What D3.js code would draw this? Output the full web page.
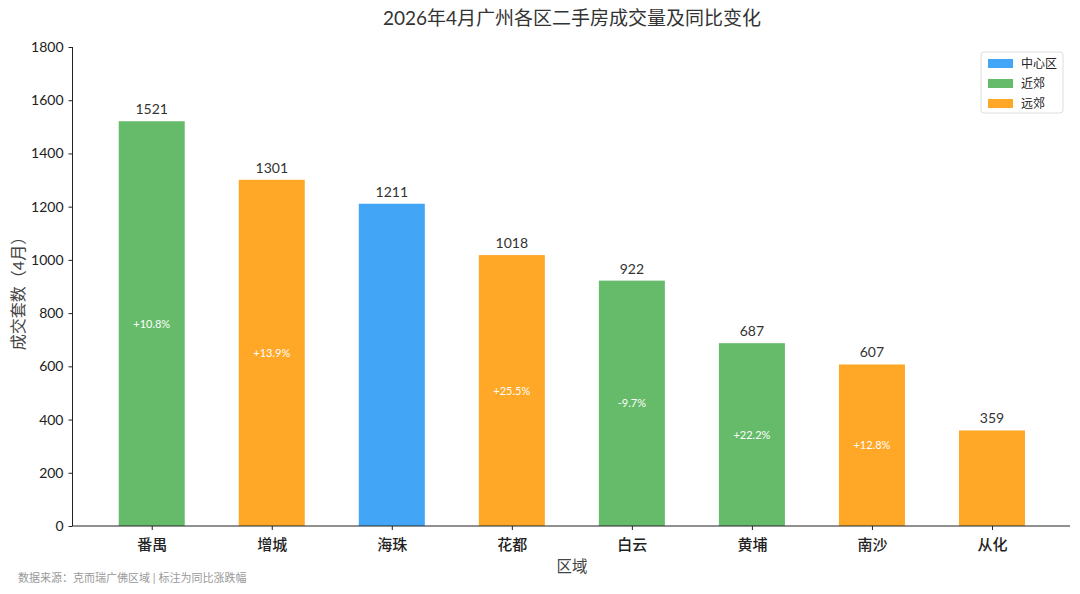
<!DOCTYPE html>
<html><head><meta charset="utf-8">
<script src="https://cdn.jsdelivr.net/npm/d3@7"></script>
<style>body{margin:0;background:#fff}svg{display:block}</style>
</head><body><svg id="c" width="1080" height="594"></svg>
<script>
const districts = ["番禺","增城","海珠","花都","白云","黄埔","南沙","从化"];
const volumes = [1521,1301,1211,1018,922,687,607,359];
const groups = ["近郊","远郊","中心区","远郊","近郊","近郊","远郊","远郊"];
const yoyLabels = ["+10.8%","+13.9%","","+25.5%","-9.7%","+22.2%","+12.8%",""];
const legendGroups = ["中心区","近郊","远郊"];
const groupColors = {"中心区":"#42A5F5","近郊":"#66BB6A","远郊":"#FFA726"};
const yTicks = [0,200,400,600,800,1000,1200,1400,1600,1800];

const F = "Lato, 'Noto Sans CJK SC', sans-serif";
const svg = d3.select("#c");
const L=72.5, R=1070, T=47, B=526;
const x = d3.scaleLinear().domain([-0.66,7.65]).range([L,R]);
const y = d3.scaleLinear().domain([0,1800]).range([B,T]);
const bw = x(0.55)-x(0);

svg.append("text").attr("x",572).attr("y",25).attr("text-anchor","middle")
  .attr("font-family",F).attr("font-size",19).attr("fill","#333").text("2026年4月广州各区二手房成交量及同比变化");

const bars = svg.append("g");
bars.selectAll("rect").data(volumes).join("rect")
  .attr("x",(d,i)=>x(i)-bw/2).attr("width",bw)
  .attr("y",d=>y(d)).attr("height",d=>B-y(d))
  .attr("fill",(d,i)=>groupColors[groups[i]]);
bars.selectAll("text.v").data(volumes).join("text").attr("class","v")
  .attr("x",(d,i)=>x(i)).attr("y",d=>y(d)-7).attr("text-anchor","middle")
  .attr("font-family",F).attr("font-size",14).attr("fill","#333").text(d=>d);
bars.selectAll("text.p").data(volumes).join("text").attr("class","p")
  .attr("x",(d,i)=>x(i)).attr("y",d=>y(d/2)+4).attr("text-anchor","middle")
  .attr("font-family",F).attr("font-size",11).attr("fill","#fff").text((d,i)=>yoyLabels[i]);

const ya = svg.append("g").attr("transform",`translate(${L},0)`)
  .call(d3.axisLeft(y).tickValues(yTicks).tickFormat(d3.format("d")).tickSize(4).tickPadding(5));
ya.selectAll("text").attr("font-family",F).attr("font-size",14).attr("fill","#222");
ya.selectAll("line,path").attr("stroke","#222");
ya.select("path").attr("d",`M0,${B}V${T}`);

const xa = svg.append("g").attr("transform",`translate(0,${B})`)
  .call(d3.axisBottom(x).tickValues(d3.range(districts.length)).tickFormat(i=>districts[i]).tickSize(4).tickPadding(9));
xa.selectAll("text").attr("font-family",F).attr("font-size",15).attr("font-weight",500).attr("fill","#222");
xa.selectAll("line,path").attr("stroke","#222");
xa.select("path").attr("d",`M${L},0H${R}`);

svg.append("text").attr("transform",`translate(24,${(T+B)/2+3}) rotate(-90)`).attr("text-anchor","middle")
  .attr("font-family",F).attr("font-size",16).attr("fill","#444").text("成交套数（4月）");
svg.append("text").attr("x",572).attr("y",572).attr("text-anchor","middle")
  .attr("font-family",F).attr("font-size",15.5).attr("fill","#444").text("区域");
svg.append("text").attr("x",18).attr("y",582)
  .attr("font-family",F).attr("font-size",11).attr("fill","#999").text("数据来源：克而瑞广佛区域 | 标注为同比涨跌幅");

const lg = svg.append("g").attr("transform","translate(981,52)");
lg.append("rect").attr("width",82).attr("height",61).attr("rx",3).attr("fill","#fff").attr("stroke","#ddd");
legendGroups.forEach((g,i)=>{
  lg.append("rect").attr("x",7).attr("y",7+i*20).attr("width",25).attr("height",9).attr("fill",groupColors[g]);
  lg.append("text").attr("x",40).attr("y",16+i*20).attr("font-family",F).attr("font-size",12).attr("fill","#222").text(g);
});
</script></body></html>
